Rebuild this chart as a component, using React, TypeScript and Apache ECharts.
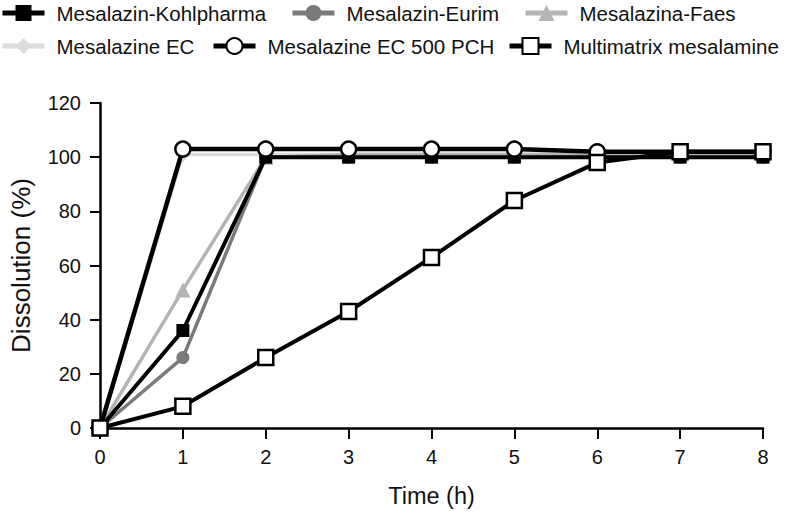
import React, { useEffect, useRef } from "react";
import * as echarts from "echarts";

const times = [0, 1, 2, 3, 4, 5, 6, 7, 8];
const kohlpharma = [0, 36, 100, 100, 100, 100, 100, 100, 100];
const eurim = [0, 26, 100, 100, 100, 100, 100, 100, 100];
const faes = [0, 51, 100, 101, 101, 101, 101, 101, 101];
const mesalazineEC = [0, 101, 101, 101, 101, 101, 101, 101, 101];
const ec500pch = [0, 103, 103, 103, 103, 103, 102, 102, 102];
const multimatrix = [0, 8, 26, 43, 63, 84, 98, 102, 102];

const seriesNames = [
  "Mesalazin-Kohlpharma",
  "Mesalazin-Eurim",
  "Mesalazina-Faes",
  "Mesalazine EC",
  "Mesalazine EC 500 PCH",
  "Multimatrix mesalamine",
];

const FONT = "'Liberation Sans', Arial, Helvetica, sans-serif";

const pairs = (vals: number[]) => times.map((t, i) => [t, vals[i]]);

export default function App() {
  const ref = useRef<HTMLDivElement>(null);
  useEffect(() => {
    if (!ref.current) return;
    const chart = echarts.init(ref.current, null, { renderer: "svg" });
    const mk = (
      name: string,
      data: number[],
      color: string,
      symbol: string,
      symbolSize: number,
      lineWidth: number,
      fill: string,
      z: number
    ) => ({
      name,
      type: "line",
      data: pairs(data),
      symbol,
      symbolSize,
      showSymbol: true,
      z,
      lineStyle: { color, width: lineWidth },
      itemStyle: { color: fill, borderColor: color, borderWidth: fill === color ? 0 : 2.5, opacity: 1 },
      emphasis: { disabled: true },
    });
    const legendPos = [
      [0, 0],
      [290, 0],
      [523, 0],
      [0, 33],
      [211, 33],
      [507, 33],
    ];
    const legends = seriesNames.map((n, i) => ({
      data: [n],
      left: legendPos[i][0],
      top: legendPos[i][1],
      padding: 0,
      itemWidth: 42,
      itemHeight: 20,
      lineStyle: { width: 5 },
      textStyle: {
        fontSize: 20.5,
        color: "#111",
        fontFamily: FONT,
        lineHeight: 26,
        padding: [0, 0, 0, 7],
      },
    }));
    chart.setOption({
      animation: false,
      textStyle: { fontFamily: FONT },
      legend: legends,
      grid: { left: 100, right: 23, top: 103, bottom: 83, containLabel: false },
      xAxis: {
        type: "value",
        min: 0,
        max: 8,
        interval: 1,
        name: "Time (h)",
        nameLocation: "middle",
        nameGap: 56,
        nameTextStyle: { fontSize: 23.5, color: "#111", fontFamily: FONT },
        axisLine: { lineStyle: { color: "#000", width: 2.5 } },
        axisTick: { show: true, length: 11, lineStyle: { color: "#000", width: 2 } },
        axisLabel: { fontSize: 20, color: "#111", margin: 19, fontFamily: FONT },
        splitLine: { show: false },
      },
      yAxis: {
        type: "value",
        min: 0,
        max: 120,
        interval: 20,
        name: "Dissolution (%)",
        nameLocation: "middle",
        nameGap: 66,
        nameTextStyle: { fontSize: 26, color: "#111", fontFamily: FONT },
        axisLine: { show: true, lineStyle: { color: "#000", width: 2.5 } },
        axisTick: { show: true, length: 10, lineStyle: { color: "#000", width: 2 } },
        axisLabel: { fontSize: 20, color: "#111", margin: 19, fontFamily: FONT },
        splitLine: { show: false },
      },
      series: [
        mk(seriesNames[3], mesalazineEC, "#dcdcdc", "diamond", 16, 3.5, "#dcdcdc", 1),
        mk(seriesNames[2], faes, "#b4b4b4", "triangle", 15, 3.5, "#b4b4b4", 2),
        mk(seriesNames[1], eurim, "#7a7a7a", "circle", 13, 3.5, "#7a7a7a", 3),
        mk(seriesNames[0], kohlpharma, "#000000", "rect", 13, 4, "#000000", 4),
        mk(seriesNames[4], ec500pch, "#000000", "circle", 15, 4.5, "#ffffff", 5),
        mk(seriesNames[5], multimatrix, "#000000", "rect", 15, 4, "#ffffff", 6),
      ],
    });
    return () => chart.dispose();
  }, []);
  return <div ref={ref} style={{ width: 786, height: 513, position: "absolute", left: 0, top: 0 }} />;
}
